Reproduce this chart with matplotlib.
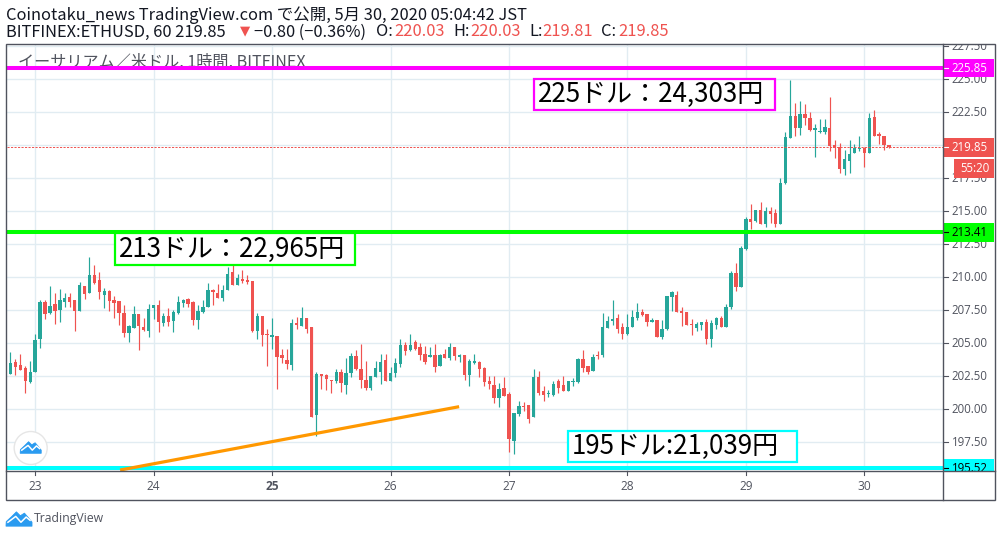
import matplotlib
matplotlib.use("Agg")
import matplotlib.pyplot as plt
from matplotlib.patches import Rectangle, Circle, Polygon
from matplotlib.lines import Line2D

plt.rcParams['font.family'] = ['Noto Sans CJK JP', 'DejaVu Sans']

W, H = 1002, 537
UP = '#26a69a'
DOWN = '#ef5350'
AXIS = '#50535e'
GRID = '#e1ecf2'

opens = [202.68, 203.59, 203.36, 203.13, 202.07, 202.83, 205.33, 208.13, 207.30, 207.98,
         207.53, 208.13, 208.51, 208.29, 207.45, 209.35, 208.81, 210.18, 209.80, 208.66,
         208.97, 208.29, 208.21, 207.30, 205.79, 206.16, 207.22, 206.24, 205.94, 207.68,
         207.91, 206.54, 207.07, 206.69, 207.30, 208.06, 208.36, 208.13, 206.77, 207.38,
         207.75, 209.04, 208.81, 208.44, 209.04, 210.41, 209.42, 209.88, 209.80, 209.72,
         205.93, 207.07, 205.71, 205.48, 205.56, 204.12, 203.74, 203.36, 206.54, 206.31,
         206.92, 206.24, 199.57, 202.68, 202.60, 202.22, 202.15, 202.83, 201.85, 202.75,
         204.04, 203.06, 202.22, 201.62, 202.45, 202.83, 203.74, 202.15, 202.75, 203.44,
         204.87, 204.50, 205.10, 204.72, 204.19, 203.97, 204.12, 203.28, 204.19, 203.89,
         204.72, 203.97, 204.12, 202.60, 203.51, 203.59, 203.13, 202.15, 201.85, 200.86,
         201.62, 201.16, 197.60, 199.65, 200.26, 200.33, 199.42, 202.45, 201.39, 201.16,
         201.09, 202.15, 201.85, 201.39, 202.07, 202.07, 203.81, 203.28, 202.91, 204.12,
         204.12, 206.16, 206.69, 206.92, 206.24, 205.71, 206.24, 206.92, 207.37, 207.22,
         206.62, 206.77, 205.48, 206.09, 208.51, 208.66, 207.45, 207.37, 206.47, 206.16,
         206.39, 206.62, 205.33, 206.39, 206.92, 206.24, 207.75, 210.33, 209.27, 212.15,
         214.42, 214.27, 215.10, 214.04, 215.03, 214.87, 214.04, 217.15, 220.56, 222.22,
         221.31, 222.37, 222.07, 221.16, 221.01, 221.01, 221.31, 220.03, 219.87, 218.21,
         218.81, 219.42, 219.72, 219.80, 219.42, 222.15, 220.86, 220.71, 220.03]

closes = [203.51, 203.21, 202.98, 202.15, 202.83, 205.26, 208.13, 207.22, 207.83, 207.45,
          208.29, 208.44, 208.13, 207.45, 209.42, 208.74, 210.18, 209.57, 208.89, 208.97,
          208.21, 208.06, 207.30, 205.79, 206.31, 207.22, 206.31, 206.01, 207.60, 207.91,
          206.62, 207.07, 206.62, 207.38, 208.13, 208.29, 207.98, 206.77, 207.45, 207.75,
          209.04, 208.89, 208.44, 209.04, 210.25, 209.42, 209.95, 209.72, 209.65, 205.93,
          207.07, 205.63, 205.63, 205.63, 203.97, 203.89, 203.44, 206.54, 206.39, 206.92,
          206.09, 199.42, 202.68, 202.53, 202.30, 202.15, 202.83, 202.00, 202.75, 204.04,
          203.06, 202.22, 201.62, 202.53, 203.13, 203.59, 202.15, 202.75, 203.51, 204.87,
          204.42, 204.87, 204.57, 204.12, 203.59, 204.12, 203.21, 204.12, 203.89, 204.72,
          204.04, 204.12, 202.60, 203.66, 203.66, 203.06, 202.07, 201.92, 200.86, 201.54,
          201.01, 197.75, 199.72, 200.26, 200.18, 199.27, 202.45, 201.24, 201.09, 201.24,
          201.92, 201.62, 201.39, 202.15, 202.15, 203.81, 203.13, 202.83, 203.97, 204.04,
          206.24, 206.69, 206.84, 206.09, 205.71, 206.24, 206.99, 207.37, 207.15, 206.62,
          206.77, 205.48, 206.09, 208.59, 208.89, 207.37, 207.30, 206.39, 206.39, 206.47,
          206.62, 205.33, 206.54, 206.92, 206.24, 207.75, 210.33, 209.27, 212.22, 214.42,
          214.19, 215.10, 214.04, 215.03, 214.80, 214.04, 217.15, 220.63, 222.22, 221.31,
          222.37, 222.07, 221.16, 221.31, 221.09, 221.39, 219.95, 219.80, 218.21, 218.97,
          219.34, 219.80, 219.80, 219.42, 222.07, 220.71, 220.71, 220.03, 219.85]

highs = [204.35, 203.82, 204.19, 203.29, 203.66, 205.71, 208.29, 208.29, 209.35, 208.81,
         209.12, 208.81, 208.81, 208.29, 209.65, 209.35, 211.54, 210.94, 210.41, 209.19,
         209.04, 208.59, 208.21, 207.91, 206.39, 207.83, 207.22, 206.92, 207.98, 207.91,
         208.29, 207.30, 207.68, 207.53, 208.59, 208.36, 208.44, 208.21, 207.91, 208.29,
         209.57, 209.12, 209.50, 209.42, 210.78, 210.94, 210.25, 210.56, 210.18, 209.72,
         207.30, 207.07, 206.09, 206.92, 205.56, 204.57, 204.57, 206.84, 206.99, 207.75,
         206.92, 206.24, 202.83, 202.68, 202.68, 202.22, 203.06, 203.06, 203.89, 204.27,
         204.50, 204.95, 203.66, 202.53, 203.66, 204.19, 204.19, 203.21, 203.89, 205.33,
         205.10, 205.71, 205.25, 205.03, 204.80, 204.72, 204.95, 204.19, 204.57, 205.03,
         204.72, 204.19, 204.12, 203.81, 204.19, 203.66, 203.21, 202.53, 202.53, 202.00,
         202.45, 201.31, 199.72, 200.63, 200.56, 200.33, 203.06, 202.91, 201.77, 201.47,
         202.15, 202.30, 202.53, 202.15, 202.37, 203.89, 204.50, 203.28, 204.19, 204.42,
         207.30, 207.07, 208.28, 207.22, 206.54, 207.22, 207.53, 208.06, 207.60, 207.22,
         206.92, 206.77, 206.77, 208.59, 208.97, 208.97, 207.75, 207.37, 206.84, 206.62,
         206.62, 206.84, 206.77, 206.99, 207.07, 207.98, 210.48, 211.09, 212.37, 214.57,
         215.56, 215.10, 215.71, 215.33, 215.33, 215.18, 217.53, 221.01, 224.95, 223.21,
         223.36, 223.13, 222.52, 221.62, 221.99, 221.99, 223.66, 220.40, 220.18, 219.65,
         220.40, 220.10, 220.71, 219.87, 222.45, 222.68, 221.01, 220.71, 220.03]

lows = [202.68, 202.60, 202.98, 201.24, 202.00, 202.83, 204.65, 206.85, 207.22, 206.47,
        206.62, 207.75, 207.75, 205.94, 207.45, 208.36, 208.81, 209.50, 208.36, 207.68,
        207.45, 206.92, 206.39, 205.48, 205.10, 206.16, 204.50, 205.94, 205.48, 206.85,
        205.86, 206.31, 206.31, 205.86, 207.22, 207.75, 207.75, 206.39, 206.09, 207.30,
        207.75, 207.91, 208.44, 208.21, 209.04, 209.42, 209.42, 209.57, 209.50, 205.86,
        205.33, 204.80, 203.28, 204.57, 201.54, 203.51, 203.06, 202.98, 206.09, 206.31,
        205.78, 199.42, 197.98, 201.54, 201.47, 201.24, 202.00, 201.32, 201.16, 202.45,
        202.98, 201.62, 201.47, 201.47, 202.45, 201.92, 202.15, 202.15, 202.45, 203.21,
        204.12, 204.42, 204.50, 203.74, 203.44, 203.97, 202.83, 203.28, 203.89, 203.74,
        203.74, 203.59, 202.22, 201.77, 203.44, 202.45, 201.77, 201.54, 200.48, 200.18,
        201.01, 196.77, 196.62, 199.50, 199.87, 198.97, 199.42, 201.09, 200.63, 200.93,
        201.01, 201.24, 201.39, 201.39, 201.77, 202.00, 202.83, 202.68, 202.91, 203.81,
        203.97, 206.16, 206.39, 205.78, 205.33, 205.63, 206.24, 206.77, 207.07, 206.31,
        206.62, 205.48, 205.33, 206.01, 207.45, 207.37, 206.31, 206.39, 205.63, 205.93,
        206.01, 204.95, 204.72, 206.09, 206.24, 206.24, 207.60, 208.97, 209.27, 212.07,
        213.66, 214.19, 214.04, 213.81, 214.12, 213.81, 214.04, 217.07, 220.56, 220.71,
        220.78, 221.54, 221.09, 219.12, 220.93, 220.86, 219.57, 219.04, 217.91, 217.75,
        217.91, 219.42, 219.57, 218.36, 219.42, 220.71, 220.10, 219.65, 219.81]

price_ticks = [197.5, 200.0, 202.5, 205.0, 207.5, 210.0, 212.5, 215.0, 217.5, 222.5, 225.0, 227.5]
day_labels = ['23', '24', '25', '26', '27', '28', '29', '30']
day_index = [5, 29, 53, 77, 101, 125, 149, 173]
grid_prices = [197.5, 200.0, 202.5, 205.0, 207.5, 210.0, 212.5, 215.0, 217.5, 220.0, 222.5, 225.0, 227.5]

level_prices = [225.85, 213.41, 195.52]
level_colors = ['#ff00ff', '#00ff00', '#00ffff']
last_price = 219.85
trend_index = [22.2, 90.9]
trend_price = [195.40, 200.20]

fig = plt.figure(figsize=(W / 100, H / 100), dpi=100, facecolor='white')

# main chart, pixel box 6.5..943.3 x 43.5..470.7
left, right, top, bottom = 6.5, 943.3, 43.5, 470.7
ax = fig.add_axes([left / W, 1 - bottom / H, (right - left) / W, (bottom - top) / H])
ax.set_xlim(-0.81, 189.0)
ax.set_ylim(195.35, 227.71)
ax.set_xticks([])
ax.set_yticks([])
for s in ax.spines.values():
    s.set_visible(False)

for p in grid_prices:
    ax.axhline(p, color=GRID, lw=1.0, zorder=1)
for d in day_index:
    ax.axvline(d, color=GRID, lw=1.0, zorder=1)

ax.text(1.5, 226.3, 'イーサリアム／米ドル, 1時間, BITFINEX', color=AXIS, fontsize=11.6,
        va='center', ha='left', zorder=2)

idx = list(range(len(opens)))
colors = [UP if c >= o else DOWN for o, c in zip(opens, closes)]
ax.vlines(idx, lows, highs, colors=colors, lw=0.85, zorder=3)
body_low = [min(o, c) for o, c in zip(opens, closes)]
body_h = [max(abs(c - o), 0.06) for o, c in zip(opens, closes)]
ax.bar(idx, body_h, bottom=body_low, width=0.68, color=colors, lw=0, zorder=4)

ax.axhline(last_price, color=DOWN, lw=0.7, ls=(0, (2.2, 1.4)), zorder=5)
for p, c in zip(level_prices, level_colors):
    ax.axhline(p, color=c, lw=2.9, zorder=6)
ax.plot(trend_index, trend_price, color='#ff9800', lw=2.3, zorder=7, solid_capstyle='butt')

# price scale panel
pax = fig.add_axes([right / W, 1 - bottom / H, (995.5 - right) / W, (bottom - top) / H])
pax.set_xlim(right, 995.5)
pax.set_ylim(195.35, 227.71)
pax.axis('off')
for p in price_ticks:
    pax.plot([right, right + 4.5], [p, p], color=AXIS, lw=0.8, zorder=2)
    pax.text(951.5, p, '%.2f' % p, color=AXIS, fontsize=8.3, va='center', ha='left',
             family='Open Sans', clip_on=True, zorder=2)

# coloured price labels sit over the plain ones
box_half = 9.3 / 13.2
for p, c, tc in [(225.85, '#ff00ff', 'white'), (213.41, '#00ff00', 'black'),
                 (195.52, '#00ffff', 'black'), (219.85, DOWN, 'white')]:
    pax.add_patch(Rectangle((right, p - box_half), 51, 2 * box_half, color=c, lw=0, zorder=3))
    pax.plot([right, right + 4.5], [p, p], color=tc, lw=0.8, zorder=4)
    pax.text(951.5, p, '%.2f' % p, color=tc, fontsize=8.3, va='center', ha='left',
             family='Open Sans', clip_on=True, zorder=4)
countdown_p = 219.85 - 1.62
pax.add_patch(Rectangle((954, countdown_p - box_half), 40.3, 2 * box_half, color=DOWN, lw=0, zorder=3))
pax.text(975, countdown_p, '55:20', color='white', fontsize=8.3, va='center', ha='center',
         family='Open Sans', zorder=4)

# overlay in pixel coordinates for frame, header, callouts and logos
ov = fig.add_axes([0, 0, 1, 1], facecolor='none')
ov.set_xlim(0, W)
ov.set_ylim(H, 0)
ov.axis('off')

ov.add_patch(Rectangle((6.5, 43.5), 989, 456.5, fill=False, ec=AXIS, lw=1.0))
ov.add_line(Line2D([right, right], [43.5, 500], color=AXIS, lw=1.0))
ov.add_line(Line2D([6.5, 995.5], [bottom, bottom], color=AXIS, lw=1.0))

for lab, d in zip(day_labels, day_index):
    px = left + (d + 0.81) / 189.81 * (right - left)
    ov.add_line(Line2D([px, px], [bottom, bottom + 4.5], color=AXIS, lw=0.8))
    ov.text(px, 487, lab, color=AXIS, fontsize=8.6, ha='center', va='center',
            family='Open Sans', fontweight='bold' if lab == '25' else 'normal')

HEAD = '#131722'
ov.text(6, 15, 'Coinotaku_news TradingView.com で公開, 5月 30, 2020 05:04:42 JST',
        color=HEAD, fontsize=11.85, va='center', ha='left')

# second header line, each piece at its own start
header_parts = [(6, 'BITFINEX:ETHUSD, 60 219.85', HEAD), (254, '−0.80 (−0.36%)', HEAD),
                (376, 'O:', HEAD), (394, '220.03', DOWN), (453, 'H:', HEAD), (470.5, '220.03', DOWN),
                (529, 'L:', HEAD), (542, '219.81', DOWN), (601, 'C:', HEAD), (618, '219.85', DOWN)]
for x, s, c in header_parts:
    ov.text(x, 32, s, color=c, fontsize=11.85, va='center', ha='left')
ov.text(240, 30.5, '▼', color=DOWN, fontsize=9.5, va='center', ha='left', family='DejaVu Sans')

callouts = [(534.5, 78.5, 241, 31.5, '#ff00ff', '225ドル：24,303円'),
            (115, 233, 240, 32, '#00ff00', '213ドル：22,965円'),
            (568.5, 430.5, 228.5, 31.5, '#00ffff', '195ドル:21,039円')]
for x, y, w, h, c, s in callouts:
    ov.add_patch(Rectangle((x, y), w, h, fc='white', ec=c, lw=1.6, zorder=5))
    ov.text(x + 3.5, y + h / 2, s, color='black', fontsize=18.7, va='center', ha='left', zorder=6)


def cloud(cx, cy, scale, zorder=8):
    pts = [(-1.0, 0.55), (-0.98, 0.2), (-0.55, -0.2), (-0.2, -0.55), (0.1, -0.25), (0.42, -0.45),
           (0.72, -0.1), (1.0, 0.25), (1.0, 0.55)]
    ov.add_patch(Polygon([(cx + scale * a, cy + scale * b) for a, b in pts], closed=True,
                         fc='#2a9bf0', ec='#2a9bf0', lw=0.6, zorder=zorder, joinstyle='round'))
    line = [(-0.85, 0.25), (-0.25, -0.2), (0.15, 0.25), (0.55, -0.15), (0.85, 0.1)]
    ov.add_line(Line2D([cx + scale * a for a, b in line], [cy + scale * b for a, b in line],
                       color='white', lw=1.1, zorder=zorder + 1))


ov.add_patch(Circle((30.7, 448), 16.5, fc='white', ec='#e6e6e6', lw=1.0, zorder=7))
cloud(30.7, 447.5, 10.5)
cloud(19, 519, 13)
ov.text(34, 518.5, 'TradingView', color=AXIS, fontsize=8.8, va='center', ha='left',
        family='Open Sans')

fig.savefig('out.png', dpi=100)
